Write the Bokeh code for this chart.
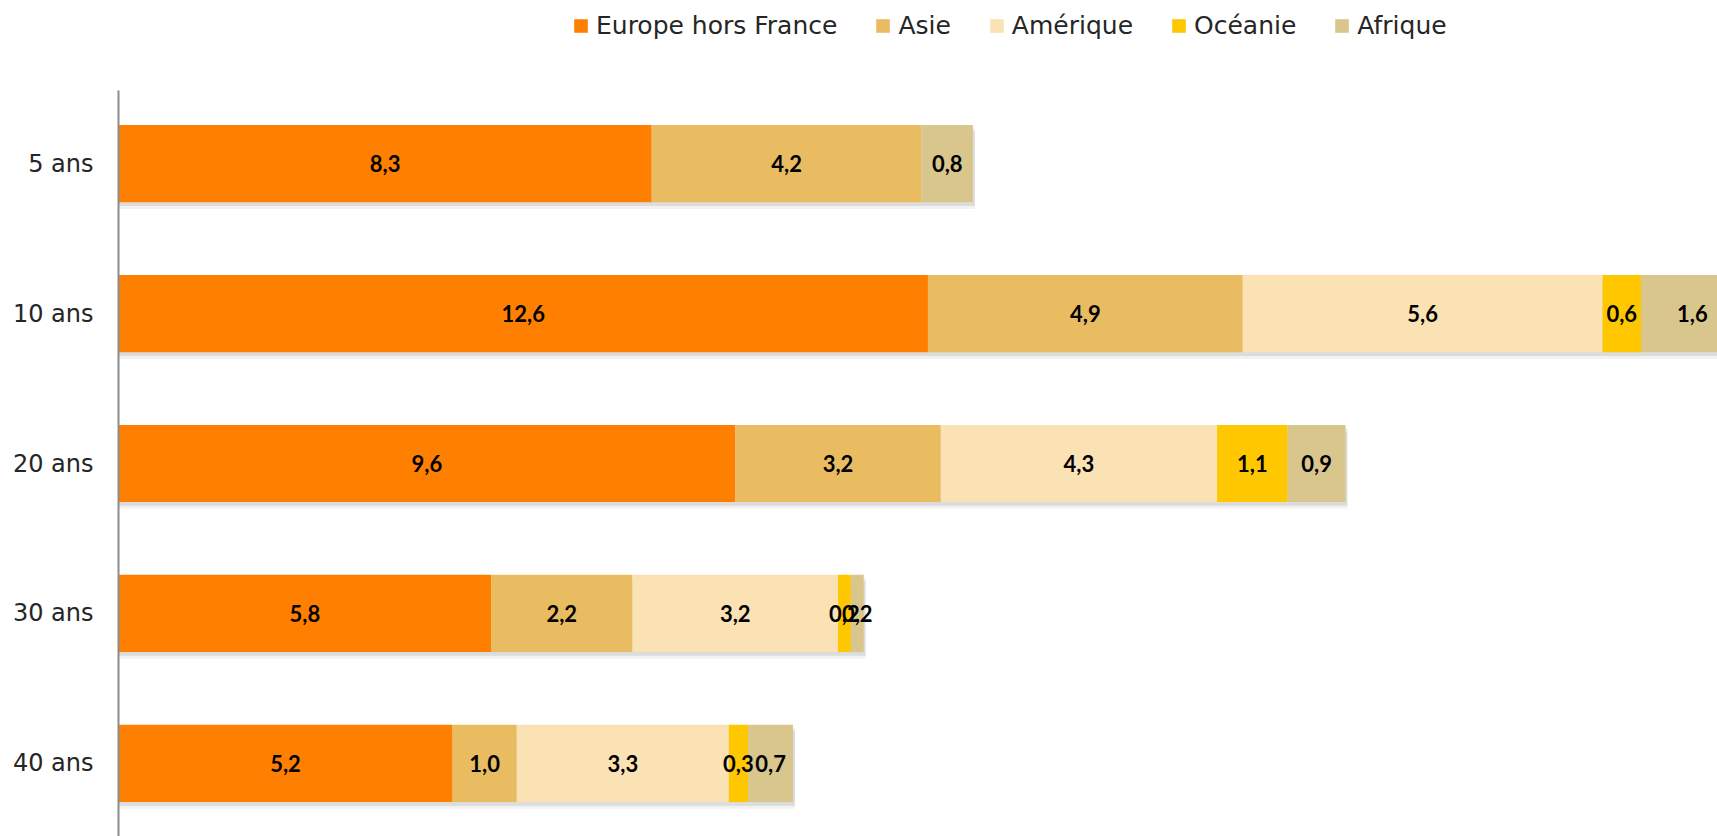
from bokeh.plotting import figure
from bokeh.layouts import column
from bokeh.models import FactorRange, Range1d, Legend, LegendItem, ColumnDataSource
from bokeh.transform import dodge
from bokeh.core.properties import value
from bokeh.embed import file_html
from bokeh.resources import INLINE

categories = ["5 ans", "10 ans", "20 ans", "30 ans", "40 ans"]
series = ["Europe hors France", "Asie", "Amérique", "Océanie", "Afrique"]
europe = [8.3, 12.6, 9.6, 5.8, 5.2]
asie = [4.2, 4.9, 3.2, 2.2, 1.0]
amerique = [0.0, 5.6, 4.3, 3.2, 3.3]
oceanie = [0.0, 0.6, 1.1, 0.2, 0.3]
afrique = [0.8, 1.6, 0.9, 0.2, 0.7]
colors = ["#FF8000", "#E9BC62", "#FAE2B4", "#FFC700", "#D9C68D"]

values = [europe, asie, amerique, oceanie, afrique]

W = 1717
LEFT = 118

# ---------- legend strip ----------
lg = figure(width=W, height=90, x_range=Range1d(0, 1), y_range=Range1d(0, 1),
            output_backend="svg", toolbar_location=None,
            min_border_left=LEFT, min_border_right=0, min_border_top=0, min_border_bottom=0)
lg.outline_line_color = None
lg.axis.visible = False
lg.grid.visible = False
# swatch glyphs only (placed outside the visible range)
lg_src = ColumnDataSource(dict(l=[5], r=[6], b=[5], t=[6]))
lg_renderers = [lg.quad(left="l", right="r", bottom="b", top="t", source=lg_src,
                        fill_color=c, line_color=None) for c in colors]
legend = Legend(items=[LegendItem(label=s, renderers=[r]) for s, r in zip(series, lg_renderers)],
                orientation="horizontal", location=(572 - LEFT, 50),
                glyph_width=17, glyph_height=17, label_standoff=7, spacing=37,
                label_height=30,
                padding=0, margin=0, border_line_color=None, background_fill_alpha=0,
                label_text_font="DejaVu Sans", label_text_font_size="25px",
                label_text_color="#262626")
lg.add_layout(legend, "center")

# ---------- main chart ----------
p = figure(width=W, height=746,
           x_range=Range1d(0, 24.89),
           y_range=FactorRange(*categories[::-1], range_padding=-0.0133,
                               range_padding_units="absolute"),
           output_backend="svg", toolbar_location=None,
           min_border_left=LEFT, min_border_right=0,
           min_border_top=0, min_border_bottom=0)
p.outline_line_color = None
p.background_fill_color = "white"
p.border_fill_color = "white"
p.xgrid.visible = False
p.ygrid.visible = False
p.xaxis.visible = False

yax = p.yaxis[0]
yax.axis_line_color = "#8c8c8c"
yax.axis_line_width = 2
yax.major_tick_line_color = None
yax.minor_tick_line_color = None
yax.major_tick_out = 0
yax.major_label_standoff = 25
yax.major_label_text_font = "DejaVu Sans"
yax.major_label_text_font_size = "24px"
yax.major_label_text_color = "#262626"

H = 0.515

# soft drop shadow under each bar
totals = [sum(v[i] for v in values) for i in range(len(categories))]
sh_src = ColumnDataSource(dict(cat=categories, right=[t + 0.03 for t in totals]))
p.hbar(y=dodge("cat", -0.045, range=p.y_range), left=0, right="right", height=H,
       source=sh_src, fill_color="#000000", fill_alpha=0.05, line_color=None)
p.hbar(y=dodge("cat", -0.025, range=p.y_range), left=0, right="right", height=H,
       source=sh_src, fill_color="#000000", fill_alpha=0.09, line_color=None)

renderers = []
lx, ly, lt = [], [], []
cum = [0.0] * len(categories)
for name, vals, col in zip(series, values, colors):
    left = cum[:]
    right = [l + v for l, v in zip(left, vals)]
    src = ColumnDataSource(dict(cat=categories, left=left, right=right))
    r = p.hbar(y="cat", left="left", right="right", height=H, source=src,
               fill_color=col, line_color=None)
    renderers.append(r)
    for c, l, v in zip(categories, left, vals):
        if v > 0:
            lx.append(l + v / 2)
            ly.append(c)
            lt.append(f"{v:.1f}".replace(".", ","))
    cum = right

lab_src = ColumnDataSource(dict(x=lx, y=ly, t=lt))
p.text(x="x", y="y", text="t", source=lab_src, text_align="center",
       text_baseline="middle", text_font=value("Lato"), text_font_style="bold",
       text_font_size="22px", text_color="black")

layout = column(lg, p, spacing=0)
open("out.html", "w").write(file_html(layout, INLINE))
